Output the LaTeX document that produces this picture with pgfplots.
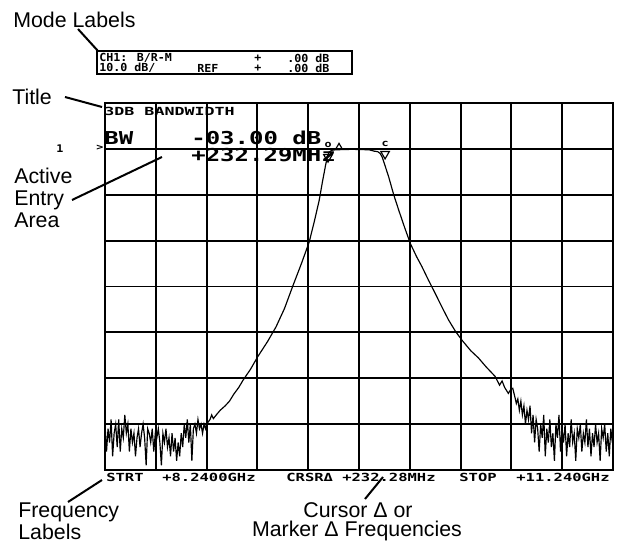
\documentclass[border=0pt]{standalone}
\usepackage{fontspec}
\setmainfont{Liberation Sans}
\newfontfamily\plotter{DejaVu Sans Mono}
\usepackage{graphicx}
\usepackage{pgfplots}
\pgfplotsset{compat=1.18}
\newcommand{\plt}[3]{{\plotter\bfseries\fontsize{#1}{#1}\selectfont\scalebox{1}[#2]{#3}}}
\newcommand{\ann}{\fontsize{12.8}{13.2}\selectfont}
\begin{document}
\begin{tikzpicture}
\useasboundingbox (0pt,0pt) rectangle (374.4pt,-325.8pt);
\begin{axis}[at={(63pt,-61.8pt)}, anchor=north west, scale only axis,
  width=304.8pt, height=220.2pt,
  xmin=8.24, xmax=11.24, ymin=-70, ymax=10,
  xtick={8.24,8.54,8.84,9.14,9.44,9.74,10.04,10.34,10.64,10.94,11.24},
  ytick={-70,-60,-50,-40,-30,-20,-10,0,10},
  xticklabels={}, yticklabels={}, major tick length=0pt,
  grid=major, grid style={black, line width=1.1pt},
  axis line style={black, line width=1.2pt}, clip=false]
\addplot[black, line width=0.7pt] coordinates {
(8.240,-60) (8.249,-66) (8.258,-61) (8.267,-64) (8.276,-59) (8.285,-67) (8.294,-62) (8.303,-60)
(8.312,-65) (8.321,-59) (8.330,-66) (8.339,-61) (8.348,-63) (8.357,-58) (8.366,-62) (8.375,-60)
(8.384,-66) (8.393,-61) (8.402,-64) (8.411,-62) (8.420,-67) (8.429,-63) (8.438,-61) (8.447,-65)
(8.456,-62) (8.465,-60) (8.474,-63) (8.483,-69) (8.492,-61) (8.501,-62) (8.510,-64) (8.519,-61)
(8.528,-66) (8.537,-62) (8.546,-63) (8.555,-61) (8.564,-64) (8.573,-69) (8.582,-62) (8.591,-64)
(8.600,-61) (8.609,-65) (8.618,-63) (8.627,-67) (8.636,-62) (8.645,-66) (8.654,-63) (8.663,-68)
(8.672,-64) (8.681,-67) (8.690,-62) (8.699,-65) (8.708,-60) (8.717,-63) (8.726,-59) (8.735,-64)
(8.744,-60) (8.753,-68) (8.762,-61) (8.771,-60) (8.780,-62) (8.789,-59) (8.798,-61) (8.807,-60)
(8.816,-62) (8.825,-60) (8.834,-61) (8.840,-60)
(8.860,-59) (8.870,-58) (8.880,-58.8) (8.897,-58) (8.920,-57) (8.950,-56) (8.975,-55) (9.000,-53.5)
(9.030,-52) (9.054,-50.5) (9.100,-48) (9.142,-45.3) (9.200,-42) (9.250,-38.8) (9.300,-34.8)
(9.348,-30) (9.400,-25) (9.446,-20.3) (9.475,-16) (9.505,-11.2) (9.525,-7) (9.544,-3.3)
(9.555,-1.5) (9.563,-0.7) (9.580,-0.3) (9.602,-0.2) (9.700,-0.1) (9.800,-0.2) (9.830,-0.5)
(9.850,-0.6) (9.865,-1.0) (9.877,-1.8) (9.895,-3.8) (9.916,-6.2) (9.945,-10) (9.975,-13.4)
(10.010,-17.2) (10.044,-20.7) (10.080,-23.5) (10.112,-25.7) (10.150,-28.6) (10.190,-31.5)
(10.230,-34.5) (10.269,-37.3) (10.310,-39.8) (10.348,-41.7) (10.400,-44) (10.446,-45.6)
(10.490,-47.5) (10.544,-49.6) (10.570,-51.5) (10.585,-50.6) (10.600,-52) (10.622,-53.3)
(10.635,-52.5) (10.648,-52.2)
(10.660,-54) (10.669,-55.5) (10.678,-54.5) (10.687,-57) (10.696,-55) (10.705,-58) (10.714,-56)
(10.723,-60) (10.732,-57) (10.741,-59) (10.750,-56) (10.759,-62) (10.768,-58) (10.777,-64)
(10.786,-59) (10.795,-61) (10.804,-66) (10.813,-60) (10.822,-63) (10.831,-58) (10.840,-67)
(10.849,-61) (10.858,-64) (10.867,-59) (10.876,-65) (10.885,-62) (10.894,-68) (10.903,-60)
(10.912,-63) (10.921,-58) (10.930,-66) (10.939,-61) (10.948,-64) (10.957,-60) (10.966,-67)
(10.975,-62) (10.984,-65) (10.993,-59) (11.002,-64) (11.011,-62) (11.020,-68) (11.029,-61)
(11.038,-63) (11.047,-60) (11.056,-66) (11.065,-62) (11.074,-64) (11.083,-59) (11.092,-65)
(11.101,-61) (11.110,-67) (11.119,-62) (11.128,-65) (11.137,-60) (11.146,-64) (11.155,-62)
(11.164,-68) (11.173,-61) (11.182,-63) (11.191,-60) (11.200,-66) (11.209,-62) (11.218,-67)
(11.227,-61) (11.236,-64) (11.240,-62)
};
\addplot[only marks, mark=triangle, mark size=3pt, mark options={rotate=180, line width=0.7pt, black}]
  coordinates {(9.557,-1.8) (9.894,-1.1)};
\addplot[only marks, mark=triangle, mark size=2.2pt, mark options={line width=0.7pt, black}]
  coordinates {(9.622,0.4)};
\node at (axis cs:9.557,0.9) {\plt{7}{0.8}{o}};
\node at (axis cs:9.894,1.1) {\plt{7}{0.8}{c}};
\end{axis}
\begin{scope}[x=0.6pt, y=-0.6pt]
% annotations
\node[anchor=west, inner sep=0pt] at (13,20) {\ann Mode Labels};
\draw[line width=1.2pt] (78,29) -- (98,51);
\draw[line width=0.9pt] (97,51) rectangle (352,74);
\node[anchor=west, inner sep=0pt] at (99,58) {\plt{7}{0.95}{CH1: B/R-M}};
\node[anchor=west, inner sep=0pt] at (254,58) {\plt{7}{0.95}{+}};
\node[anchor=west, inner sep=0pt] at (287,58) {\plt{7}{0.95}{.00 dB}};
\node[anchor=west, inner sep=0pt] at (99,68) {\plt{7}{0.95}{10.0 dB/}};
\node[anchor=west, inner sep=0pt] at (197,68) {\plt{7}{0.95}{REF}};
\node[anchor=west, inner sep=0pt] at (254,68) {\plt{7}{0.95}{+}};
\node[anchor=west, inner sep=0pt] at (287,68) {\plt{7}{0.95}{.00 dB}};
\node[anchor=west, inner sep=0pt] at (12,97) {\ann Title};
\draw[line width=1.2pt] (65,97) -- (102,107);
\node[anchor=west, inner sep=0pt] at (104,111) {\plt{10}{0.67}{3DB BANDWIDTH}};
\node[inner sep=0pt] at (60,149) {\plt{7}{0.9}{1}};
\node[inner sep=0pt] at (100,148) {\plt{7}{0.8}{>}};
\node[anchor=west, inner sep=0pt] at (104,138) {\plt{14.4}{0.74}{BW}};
\node[anchor=west, inner sep=0pt] at (191,138) {\plt{14.4}{0.74}{-03.00 dB}};
\node[anchor=west, inner sep=0pt] at (191,155) {\plt{14.4}{0.74}{+232.29MHz}};
\node[anchor=north west, inner sep=0pt, align=left, font=\ann] at (14,168) {Active\\Entry\\Area};
\draw[line width=1.2pt] (72,200) -- (162,157);
\node[anchor=west, inner sep=0pt] at (106,477) {\plt{9.3}{0.72}{STRT}};
\node[anchor=west, inner sep=0pt] at (162,477) {\plt{9.3}{0.72}{+8.2400GHz}};
\node[anchor=west, inner sep=0pt] at (286,477) {\plt{9.3}{0.72}{CRSRΔ +232.28MHz}};
\node[anchor=west, inner sep=0pt] at (459,477) {\plt{9.3}{0.72}{STOP}};
\node[anchor=west, inner sep=0pt] at (516,477) {\plt{9.3}{0.72}{+11.240GHz}};
\node[anchor=west, inner sep=0pt] at (18,512) {\ann Frequency};
\node[anchor=west, inner sep=0pt] at (18,532) {\ann Labels};
\draw[line width=1.2pt] (68,502) -- (102,480);
\node[inner sep=0pt] at (358,510) {\ann Cursor Δ or};
\node[inner sep=0pt] at (357,531) {\ann Marker Δ Frequencies};
\draw[line width=1.2pt] (365,499) -- (383,477);
\end{scope}
\end{tikzpicture}
\end{document}
